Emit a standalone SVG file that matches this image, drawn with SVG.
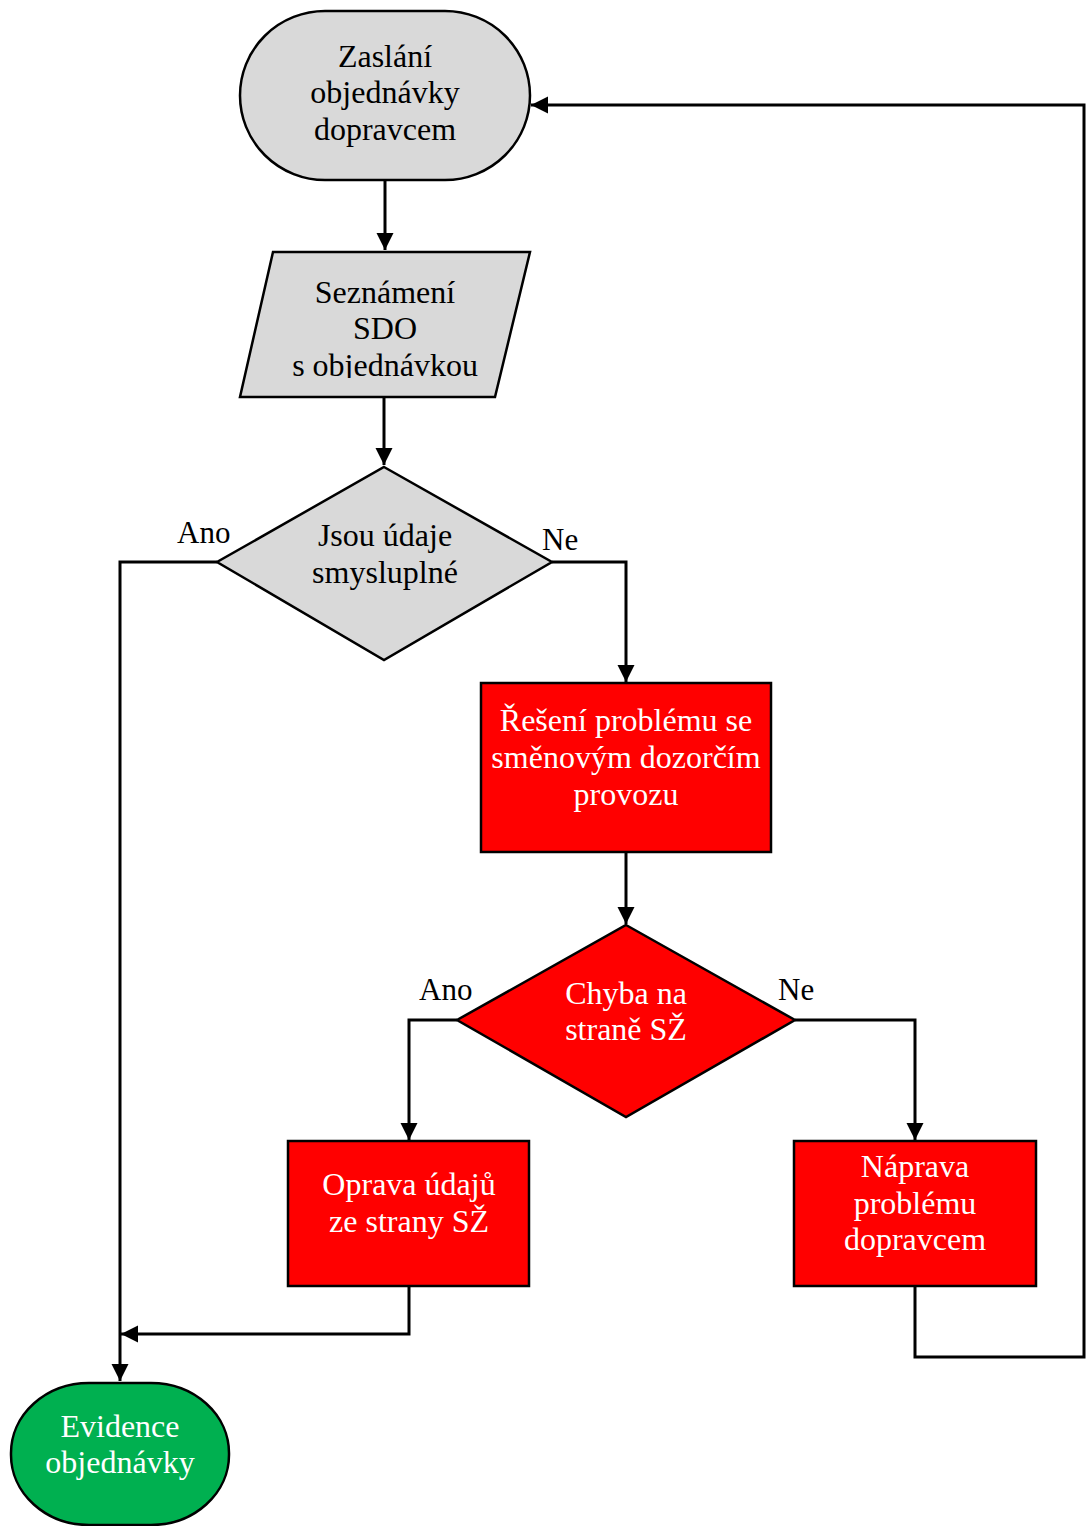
<svg xmlns="http://www.w3.org/2000/svg" width="1087" height="1526" viewBox="0 0 1087 1526">
<style>
.n{stroke:#000;stroke-width:2.5}
.g{fill:#d9d9d9}
.r{fill:#ff0000}
.t{font-family:"Liberation Serif","Times New Roman",serif;font-size:32px;text-anchor:middle;fill:#000}
.w{fill:#fff}
.lb{font-family:"Liberation Serif","Times New Roman",serif;font-size:31px;fill:#000}
.c{fill:none;stroke:#000;stroke-width:3}
</style>
<defs>
<marker id="a" markerUnits="userSpaceOnUse" markerWidth="17" markerHeight="19" viewBox="0 0 17 19" refX="17" refY="9.5" orient="auto">
<path d="M0,1 L17,9.5 L0,18 z" fill="#000"/>
</marker>
<clipPath id="pc"><rect x="230" y="250" width="320" height="128"/></clipPath>
</defs>
<g id="connectors">
<path class="c" d="M385,180 L385,250" marker-end="url(#a)"/>
<path class="c" d="M384,397 L384,465" marker-end="url(#a)"/>
<path class="c" d="M217,562 L120,562 L120,1381" marker-end="url(#a)"/>
<path class="c" d="M552,562 L626,562 L626,682" marker-end="url(#a)"/>
<path class="c" d="M626,852 L626,924" marker-end="url(#a)"/>
<path class="c" d="M457,1020 L409,1020 L409,1140" marker-end="url(#a)"/>
<path class="c" d="M795,1020 L915,1020 L915,1140" marker-end="url(#a)"/>
<path class="c" d="M409,1286 L409,1334 L121,1334" marker-end="url(#a)"/>
<path class="c" d="M915,1286 L915,1357 L1084,1357 L1084,105 L531,105" marker-end="url(#a)"/>
</g>
<g id="labels">
<text class="lb" x="177" y="543">Ano</text>
<text class="lb" x="542" y="550">Ne</text>
<text class="lb" x="419" y="1000">Ano</text>
<text class="lb" x="778" y="1000">Ne</text>
</g>
<g id="start">
<rect class="n g" x="240" y="11" width="290" height="169" rx="85" ry="84.5"/>
<text class="t" x="385" y="67">Zaslání</text>
<text class="t" x="385" y="103">objednávky</text>
<text class="t" x="385" y="140">dopravcem</text>
</g>
<g id="seznameni">
<path class="n g" d="M273,252 L530,252 L495,397 L240,397 z"/>
<g clip-path="url(#pc)">
<text class="t" x="385" y="303">Seznámení</text>
<text class="t" x="385" y="339">SDO</text>
<text class="t" x="385" y="376">s objednávkou</text>
</g>
</g>
<g id="decision1">
<path class="n g" d="M384,467 L552,562 L384,660 L217,562 z"/>
<text class="t" x="385" y="546">Jsou údaje</text>
<text class="t" x="385" y="583">smysluplné</text>
</g>
<g id="reseni">
<rect class="n r" x="481" y="683" width="290" height="169"/>
<text class="t w" x="626" y="731">Řešení problému se</text>
<text class="t w" x="626" y="768">směnovým dozorčím</text>
<text class="t w" x="626" y="805">provozu</text>
</g>
<g id="decision2">
<path class="n r" d="M626,925 L795,1020 L626,1117 L457,1020 z"/>
<text class="t w" x="626" y="1004">Chyba na</text>
<text class="t w" x="626" y="1040">straně SŽ</text>
</g>
<g id="oprava">
<rect class="n r" x="288" y="1141" width="241" height="145"/>
<text class="t w" x="409" y="1195">Oprava údajů</text>
<text class="t w" x="409" y="1232">ze strany SŽ</text>
</g>
<g id="naprava">
<rect class="n r" x="794" y="1141" width="242" height="145"/>
<text class="t w" x="915" y="1177">Náprava</text>
<text class="t w" x="915" y="1214">problému</text>
<text class="t w" x="915" y="1250">dopravcem</text>
</g>
<g id="evidence">
<rect class="n" fill="#00b050" x="11" y="1383" width="218" height="142" rx="78" ry="70"/>
<text class="t w" x="120" y="1437">Evidence</text>
<text class="t w" x="120" y="1473">objednávky</text>
</g>
</svg>
